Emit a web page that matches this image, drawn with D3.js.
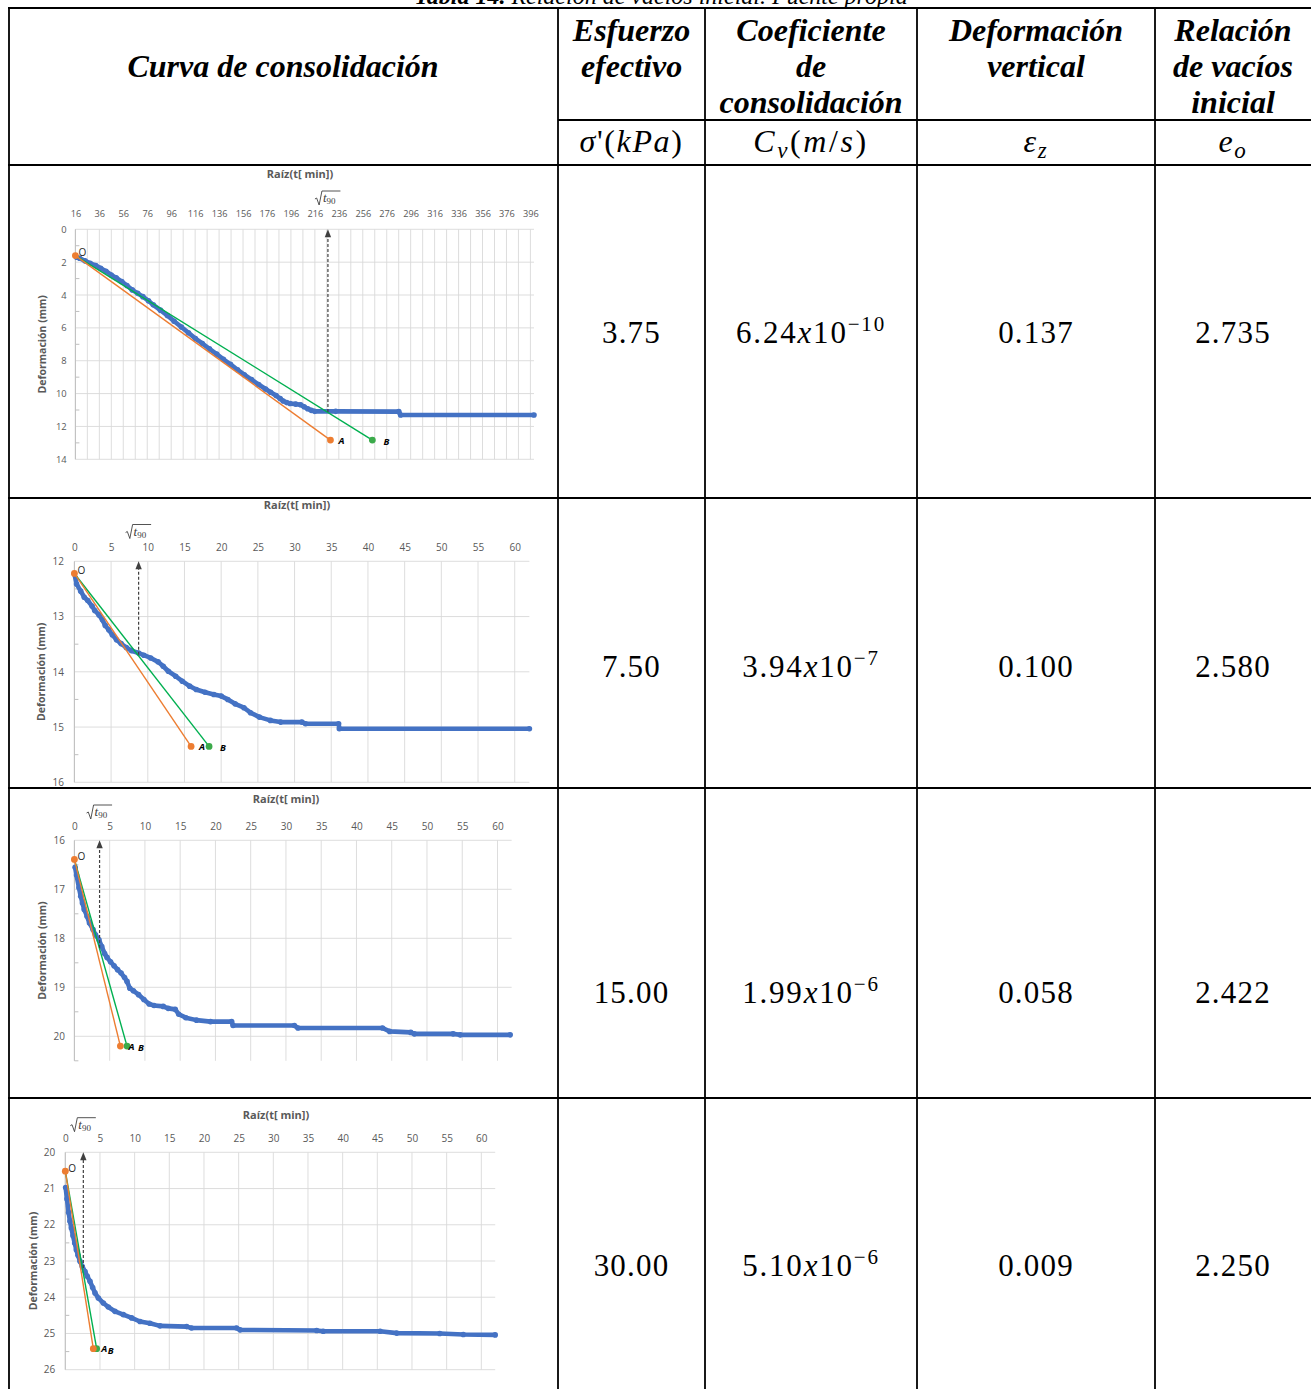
<!DOCTYPE html>
<html><head><meta charset="utf-8">
<script src="https://cdn.jsdelivr.net/npm/d3@7"></script>
<style>body{margin:0;background:#fff}svg{display:block}</style>
</head><body>
<svg id="c" width="1311" height="1389"></svg>
<script>
// ---------- table data ----------
const esfuerzo = ["3.75", "7.50", "15.00", "30.00"];
const cvMantissa = ["6.24", "3.94", "1.99", "5.10"];
const cvExponent = ["\u221210", "\u22127", "\u22126", "\u22126"];
const deformacion = ["0.137", "0.100", "0.058", "0.009"];
const relacionVacios = ["2.735", "2.580", "2.422", "2.250"];

// ---------- chart data: [sqrt(t), deformation mm] ----------
const curve1 = [[17,1.7],[19.5,1.76],[24,1.92],[28.3,2.07],[33,2.2],[37.1,2.37],[41.5,2.55],[45.9,2.78],[50,2.95],[54.7,3.18],[59,3.42],[63.5,3.69],[68,3.9],[72.3,4.1],[77,4.35],[81,4.6],[87,4.92],[92.8,5.25],[98.5,5.6],[104.5,5.95],[110.4,6.3],[116.2,6.65],[122,6.95],[127.9,7.28],[134,7.6],[139.6,7.92],[145.5,8.22],[151.4,8.55],[157,8.85],[163.1,9.15],[169,9.45],[174.8,9.72],[179,9.92],[183.6,10.12],[187,10.3],[189.5,10.45],[192.5,10.55],[195.3,10.6],[200,10.64],[204.1,10.68],[207,10.8],[210,10.92],[213,11.02],[215.8,11.08],[233.4,11.08],[286.1,11.1],[287.6,11.3],[399,11.3]];
const curve2 = [[0,12.22],[0.29,12.41],[0.86,12.54],[1.34,12.65],[1.82,12.71],[2.4,12.81],[2.77,12.89],[3.35,12.97],[3.82,13.06],[4.2,13.16],[4.68,13.24],[5.16,13.33],[5.74,13.42],[6.36,13.49],[7.07,13.56],[7.79,13.62],[8.75,13.66],[9.46,13.7],[10.4,13.75],[11.4,13.82],[12.1,13.9],[12.8,13.99],[13.8,14.08],[14.7,14.17],[15.7,14.26],[16.6,14.32],[17.8,14.37],[19,14.41],[20,14.44],[20.9,14.5],[21.9,14.58],[23.1,14.65],[24,14.74],[25.2,14.82],[26.7,14.88],[28.1,14.91],[31,14.91],[31.5,14.94],[36,14.94],[36.1,15.03],[62,15.03]];
const curve3 = [[0.1,16.55],[0.3,16.71],[0.65,16.97],[0.9,17.14],[1.14,17.28],[1.39,17.41],[1.79,17.55],[2.14,17.69],[2.64,17.82],[2.99,17.93],[3.48,18.03],[3.88,18.17],[4.28,18.31],[4.63,18.39],[5.12,18.48],[5.62,18.56],[6.12,18.64],[6.62,18.71],[7.11,18.8],[7.46,18.88],[7.86,19.02],[8.36,19.07],[9.1,19.15],[9.85,19.25],[10.6,19.34],[11.3,19.37],[12.6,19.39],[13.3,19.43],[14.3,19.45],[14.8,19.55],[15.8,19.62],[17.3,19.67],[19.3,19.7],[22.3,19.7],[22.5,19.78],[31.2,19.78],[31.7,19.83],[43.7,19.83],[44.7,19.9],[47.7,19.92],[48.2,19.95],[53.7,19.95],[54.7,19.97],[61.8,19.97]];
const curve4 = [[0.05,20.97],[0.24,21.29],[0.48,21.66],[0.67,21.9],[0.87,22.09],[1.11,22.3],[1.35,22.5],[1.59,22.69],[1.83,22.84],[2.12,23.01],[2.45,23.15],[2.84,23.29],[3.17,23.42],[3.56,23.56],[3.94,23.73],[4.28,23.88],[4.76,24.02],[5.48,24.16],[6.2,24.27],[7.16,24.39],[8.37,24.48],[9.57,24.57],[10.77,24.67],[12.2,24.72],[13.65,24.79],[17.5,24.81],[18.2,24.85],[24.7,24.85],[25.2,24.9],[36.25,24.92],[37.2,24.94],[45.4,24.94],[47.8,24.99],[54,25],[57.4,25.03],[62,25.04]];
const curves = [curve1, curve2, curve3, curve4];

// construction points O, A, B and sqrt(t90)
const pointO = [[16,1.6],[0,12.22],[0,16.39],[0,20.52]];
const pointA = [[229,12.83],[15.9,15.35],[6.52,20.2],[4.04,25.42]];
const pointB = [[264,12.83],[18.35,15.35],[7.46,20.2],[4.52,25.42]];
const sqrtT90 = [226.9, 8.75, 3.57, 2.6];
const t90Curve = [11.12, 13.69, 18.2, 23.19];

// axes
const xDomains = [[16,399],[0,62],[0,62],[0,62]];
const yDomains = [[0,14],[12,16],[16,20.5],[20,26]];
const xTicks1 = d3.range(16, 397, 20);
const xTicksB = d3.range(0, 61, 5);
const xTicks = [xTicks1, xTicksB, xTicksB, xTicksB];
const xGrid = [d3.range(16, 397, 10), xTicksB, xTicksB, xTicksB];
const yTicks = [[0,2,4,6,8,10,12,14],[12,13,14,15,16],[16,17,18,19,20],[20,21,22,23,24,25,26]];
const yMinor = [[1,3,5,7,9,11,13],[12.5,13.5,14.5,15.5],[16.5,17.5,18.5,19.5,20.5],[20.5,21.5,22.5,23.5,24.5,25.5]];
const xTitle = "Ra\u00edz(t[ min])";
const yTitle = "Deformaci\u00f3n (mm)";

// ---------- layout ----------
const boxes = [
  {left:75.4, right:534, top:229.3, bottom:459.3, titleX:300, titleY:174.3, t90Y:198, tickFont:9.2, yFont:9.4, xPad:12, yPad:8.7, yTitleX:42},
  {left:74.4, right:529.4, top:561.3, bottom:782.3, titleX:297, titleY:505.3, t90Y:531.5, tickFont:10, yFont:10, xPad:10.7, yPad:10.5, yTitleX:41},
  {left:74.4, right:511.6, top:840.3, bottom:1060.8, titleX:286, titleY:799, t90Y:812, tickFont:10, yFont:10, xPad:10.7, yPad:9.5, yTitleX:42},
  {left:65.3, right:495.2, top:1152.3, bottom:1369.7, titleX:276, titleY:1114.7, t90Y:1124.7, tickFont:10, yFont:10, xPad:10, yPad:10, yTitleX:33}
];

const svg = d3.select("#c");
const SERIF = "'Liberation Serif', 'Times New Roman', serif";
const SANS = "'Open Sans', 'Liberation Sans', sans-serif";

// ---------- caption (cut by the top edge, as in the source page) ----------
const cap = svg.append("text").attr("x", 661).attr("y", 3.5).attr("text-anchor", "middle")
  .style("font-family", SERIF).style("font-size", "24px").style("font-style", "italic");
cap.append("tspan").style("font-weight", "bold").text("Tabla 14.");
cap.append("tspan").text(" Relaci\u00f3n de vac\u00edos inicial. Fuente propia");

// ---------- table lines ----------
const colX = [558, 705, 917, 1155];
const rowY = [8, 165, 498, 788, 1098];
const tl = svg.append("g").attr("stroke", "#000").attr("stroke-width", 1.8);
rowY.forEach(yv => tl.append("line").attr("x1", 8).attr("x2", 1311).attr("y1", yv).attr("y2", yv));
tl.append("line").attr("x1", 558).attr("x2", 1311).attr("y1", 120).attr("y2", 120);
[9].concat(colX).forEach(xv => tl.append("line").attr("x1", xv).attr("x2", xv).attr("y1", 7).attr("y2", 1389));

// ---------- header ----------
const hdr = svg.append("g").style("font-family", SERIF).style("font-size", "32px")
  .style("font-weight", "bold").style("font-style", "italic").attr("text-anchor", "middle").attr("fill", "#000");
hdr.append("text").attr("x", 283).attr("y", 77).text("Curva de consolidaci\u00f3n");
const headLines = [
  {x:631.5, lines:["Esfuerzo","efectivo"]},
  {x:811, lines:["Coeficiente","de","consolidaci\u00f3n"]},
  {x:1036, lines:["Deformaci\u00f3n","vertical"]},
  {x:1233, lines:["Relaci\u00f3n","de vac\u00edos","inicial"]}
];
headLines.forEach(h => h.lines.forEach((t, k) =>
  hdr.append("text").attr("x", h.x).attr("y", 41 + k * 36).text(t)));

// symbol row
const sym = svg.append("g").style("font-family", SERIF).style("font-size", "32px").style("letter-spacing", "1.6px")
  .attr("text-anchor", "middle").attr("fill", "#000");
let s = sym.append("text").attr("x", 631.5).attr("y", 152);
s.append("tspan").style("font-style", "italic").text("\u03c3");
s.append("tspan").text("'(");
s.append("tspan").style("font-style", "italic").text("kPa");
s.append("tspan").text(")");
s = sym.append("text").attr("x", 811).attr("y", 152).style("letter-spacing", "2.6px");
s.append("tspan").style("font-style", "italic").text("C");
s.append("tspan").style("font-style", "italic").style("font-size", "23px").attr("dy", 6).text("v");
s.append("tspan").attr("dy", -6).text("(");
s.append("tspan").style("font-style", "italic").text("m");
s.append("tspan").text("/");
s.append("tspan").style("font-style", "italic").text("s");
s.append("tspan").text(")");
s = sym.append("text").attr("x", 1036).attr("y", 152);
s.append("tspan").style("font-style", "italic").text("\u03b5");
s.append("tspan").style("font-style", "italic").style("font-size", "23px").attr("dy", 6).text("z");
s = sym.append("text").attr("x", 1233).attr("y", 152);
s.append("tspan").style("font-style", "italic").text("e");
s.append("tspan").style("font-style", "italic").style("font-size", "23px").attr("dy", 6).text("o");

// values
const valueY = [343, 677, 1003, 1276];
const vals = svg.append("g").style("font-family", SERIF).style("font-size", "31px").style("letter-spacing", "1.2px")
  .attr("text-anchor", "middle").attr("fill", "#000");
valueY.forEach((yv, r) => {
  vals.append("text").attr("x", 631.5).attr("y", yv).text(esfuerzo[r]);
  const t = vals.append("text").attr("x", 811).attr("y", yv).style("letter-spacing", "1.8px");
  t.append("tspan").text(cvMantissa[r]);
  t.append("tspan").style("font-style", "italic").text("x");
  t.append("tspan").text("10");
  t.append("tspan").style("font-size", "21px").attr("dy", -12).text(cvExponent[r]);
  vals.append("text").attr("x", 1036).attr("y", yv).text(deformacion[r]);
  vals.append("text").attr("x", 1233).attr("y", yv).text(relacionVacios[r]);
});

// ---------- charts ----------
function drawChart(i) {
  const b = boxes[i];
  const g = svg.append("g");
  const x = d3.scaleLinear().domain(xDomains[i]).range([b.left, b.right]);
  const y = d3.scaleLinear().domain(yDomains[i]).range([b.top, b.bottom]);
  const grid = g.append("g").attr("stroke", "#D9D9D9").attr("stroke-width", 0.9);
  grid.selectAll(null).data(xGrid[i]).join("line")
    .attr("x1", d => x(d)).attr("x2", d => x(d)).attr("y1", b.top).attr("y2", b.bottom);
  grid.selectAll(null).data(yTicks[i]).join("line")
    .attr("x1", b.left).attr("x2", b.right).attr("y1", d => y(d)).attr("y2", d => y(d));
  g.append("line").attr("x1", b.left).attr("x2", b.left).attr("y1", b.top).attr("y2", b.bottom)
    .attr("stroke", "#BFBFBF").attr("stroke-width", 1);
  g.append("g").selectAll(null).data(yMinor[i]).join("line")
    .attr("x1", b.left).attr("x2", b.left + 4).attr("y1", d => y(d)).attr("y2", d => y(d))
    .attr("stroke", "#BFBFBF").attr("stroke-width", 1);

  const ax = g.append("g").attr("transform", `translate(0,${b.top})`)
    .call(d3.axisTop(x).tickValues(xTicks[i]).tickSize(0).tickPadding(b.xPad).tickFormat(d3.format("d")));
  ax.select(".domain").remove();
  ax.selectAll("text").attr("fill", "#595959").style("font-family", SANS).style("font-size", b.tickFont + "px");
  const ay = g.append("g").attr("transform", `translate(${b.left},0)`)
    .call(d3.axisLeft(y).tickValues(yTicks[i]).tickSize(0).tickPadding(b.yPad).tickFormat(d3.format("d")));
  ay.select(".domain").remove();
  ay.selectAll("text").attr("fill", "#595959").style("font-family", SANS).style("font-size", b.yFont + "px");

  g.append("text").attr("x", b.titleX).attr("y", b.titleY + 4).attr("text-anchor", "middle")
    .attr("fill", "#595959").style("font-family", SANS).style("font-size", "11px").style("font-weight", "bold").text(xTitle);
  g.append("text").attr("transform", `translate(${b.yTitleX},${(b.top + b.bottom) / 2}) rotate(-90)`)
    .attr("dy", "0.35em").attr("text-anchor", "middle")
    .attr("fill", "#595959").style("font-family", SANS).style("font-size", "10.5px").style("font-weight", "bold").text(yTitle);

  // blue data
  const data = curves[i];
  g.append("path").datum(data).attr("fill", "none").attr("stroke", "#4472C4").attr("stroke-width", 4.6)
    .attr("stroke-linejoin", "round").attr("d", d3.line().x(d => x(d[0])).y(d => y(d[1])));
  g.append("g").selectAll(null).data(data).join("circle")
    .attr("cx", d => x(d[0])).attr("cy", d => y(d[1])).attr("r", 2.8).attr("fill", "#4472C4");

  // construction lines
  const O = pointO[i], A = pointA[i], B = pointB[i];
  g.append("line").attr("x1", x(O[0])).attr("y1", y(O[1])).attr("x2", x(B[0])).attr("y2", y(B[1]))
    .attr("stroke", "#00B050").attr("stroke-width", 1.4);
  g.append("line").attr("x1", x(O[0])).attr("y1", y(O[1])).attr("x2", x(A[0])).attr("y2", y(A[1]))
    .attr("stroke", "#ED7D31").attr("stroke-width", 1.4);

  // dashed arrow
  const tx = x(sqrtT90[i]);
  g.append("line").attr("x1", tx).attr("x2", tx).attr("y1", y(t90Curve[i])).attr("y2", b.top + 6)
    .attr("stroke", "#404040").attr("stroke-width", 1.2).attr("stroke-dasharray", "3,2");
  g.append("path").attr("d", `M${tx},${b.top} L${tx - 3.2},${b.top + 8} L${tx + 3.2},${b.top + 8} Z`).attr("fill", "#404040");

  // markers
  g.append("circle").attr("cx", x(B[0])).attr("cy", y(B[1])).attr("r", 3.4).attr("fill", "#3BAA4A");
  g.append("circle").attr("cx", x(A[0])).attr("cy", y(A[1])).attr("r", 3.4).attr("fill", "#ED7D31");
  g.append("circle").attr("cx", x(O[0])).attr("cy", y(O[1])).attr("r", 3.4).attr("fill", "#ED7D31");

  // point labels
  g.append("text").attr("x", x(O[0]) + 3).attr("y", y(O[1]) + 0.5).attr("fill", "#262626")
    .style("font-family", SANS).style("font-size", "10px").text("O");
  g.append("text").attr("x", x(A[0]) + 11).attr("y", y(A[1]) + 3.5).attr("text-anchor", "middle").attr("fill", "#000")
    .style("font-family", SANS).style("font-size", "9.5px").style("font-weight", "bold").style("font-style", "italic").text("A");
  g.append("text").attr("x", x(B[0]) + 14).attr("y", y(B[1]) + 5).attr("text-anchor", "middle").attr("fill", "#000")
    .style("font-family", SANS).style("font-size", "9.5px").style("font-weight", "bold").style("font-style", "italic").text("B");

  // sqrt(t90) label
  const cx = tx, cy = b.t90Y;
  g.append("path").attr("d", `M${cx - 13},${cy + 1} L${cx - 11.3},${cy} L${cx - 8.8},${cy + 7} L${cx - 6},${cy - 7} L${cx + 12.5},${cy - 7}`)
    .attr("fill", "none").attr("stroke", "#404040").attr("stroke-width", 0.9);
  const lt = g.append("text").attr("x", cx - 5).attr("y", cy + 4).attr("fill", "#404040").style("font-family", SERIF);
  lt.append("tspan").style("font-style", "italic").style("font-size", "13px").text("t");
  lt.append("tspan").style("font-size", "9px").attr("dy", 2).text("90");
}
[0, 1, 2, 3].forEach(drawChart);
</script>
</body></html>
